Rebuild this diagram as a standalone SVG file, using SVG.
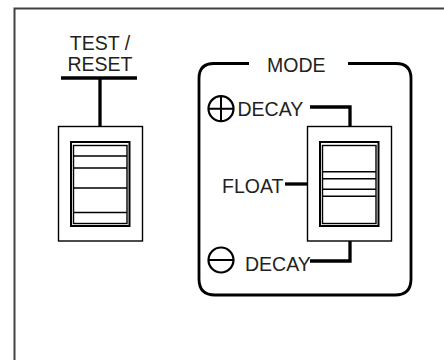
<svg xmlns="http://www.w3.org/2000/svg" width="444" height="360" viewBox="0 0 444 360">
<style>
text{font-family:"Liberation Sans",Arial,sans-serif;font-size:19.5px;fill:#231f20}
.t{fill:none;stroke:#000;stroke-width:1.4}
.m{fill:none;stroke:#000;stroke-width:2}
.c{fill:none;stroke:#000;stroke-width:3.3}
.s{fill:none;stroke:#000;stroke-width:2.8}
</style>
<rect width="444" height="360" fill="#fff"/>
<path d="M14.500 360V8.500H444" fill="none" stroke="#444042" stroke-width="2"/>
<g id="connectors">
<path class="c" d="M61 78H137M100 78V126"/>
<path class="c" d="M310 107H350V126"/>
<path class="c" d="M285 184H307"/>
<path class="c" d="M350 241V261H310"/>
</g>
<g id="test-reset">
<text x="100" y="50" text-anchor="middle">TEST /</text>
<text x="100" y="71" text-anchor="middle">RESET</text>
<rect class="t" x="58.500" y="126.500" width="84" height="114.500"/>
<rect class="m" x="71" y="142" width="58.500" height="84"/>
<rect class="t" x="73.500" y="145.500" width="53.500" height="78"/>
<path class="t" d="M73.500 156H127M73.500 168H127M73.500 188H127M73.500 212.500H127"/>
</g>
<g id="mode">
<path class="s" d="M249 63.500H214Q199 63.500 199 78.500V279Q199 295 215 295H395Q411 295 411 279V78.500Q411 63.500 396 63.500H348"/>
<text x="267" y="72">MODE</text>
</g>
<g id="mode-switch">
<rect class="t" x="307.500" y="126.500" width="84" height="114.500"/>
<rect class="m" x="320" y="142" width="58.500" height="84"/>
<rect class="t" x="322.500" y="145.500" width="53.500" height="78"/>
<path class="t" d="M322.500 171.700H376M322.500 178.700H376M322.500 189.300H376M322.500 196.300H376"/>
</g>
<g id="plus-decay">
<circle cx="221" cy="108.700" r="12.500" fill="none" stroke="#000" stroke-width="2.200"/>
<path d="M208.500 108.700H233.500M221 96.200V121.200" fill="none" stroke="#000" stroke-width="2"/>
<text x="237.500" y="116">DECAY</text>
</g>
<g id="float">
<text x="222" y="192.500">FLOAT</text>
</g>
<g id="minus-decay">
<circle cx="221" cy="260" r="12.500" fill="none" stroke="#000" stroke-width="2.200"/>
<path d="M208.500 260H233.500" fill="none" stroke="#000" stroke-width="2"/>
<text x="245" y="271">DECAY</text>
</g>
</svg>
